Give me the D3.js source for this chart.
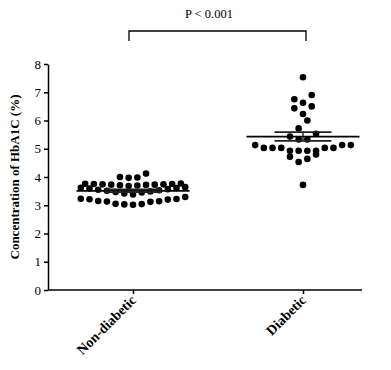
<!DOCTYPE html>
<html>
<head>
<meta charset="utf-8">
<script src="https://d3js.org/d3.v7.min.js"></script>
<style>
  body {margin:0; background:#fff;}
  svg {display:block;}
  text {font-family:'Liberation Serif','Times New Roman',serif; fill:#000;}
</style>
</head>
<body>
<svg id="chart"></svg>
<script>
// data
const groups=['Non-diabetic','Diabetic'];
const nonDiabetic=[3.97,3.98,4.00,4.12,
  3.68,3.70,3.71,3.72,3.73,3.73,3.74,3.74,3.75,3.75,3.76,3.77,
  3.38,3.42,3.45,3.47,3.49,3.51,3.53,3.55,3.57,3.59,3.61,3.62,3.64,
  3.02,3.03,3.04,3.05,3.12,3.13,3.14,3.15,3.20,3.21,3.22,3.23,3.29];
const diabetic=[7.53,6.90,6.75,6.63,6.50,6.43,6.23,6.00,5.72,5.53,5.43,
  5.33,5.33,5.13,5.13,5.13,5.03,5.03,5.03,5.03,5.03,
  4.93,4.80,4.93,4.93,4.93,4.72,4.64,4.53,3.72];
const yTicks=[0,1,2,3,4,5,6,7,8];
const pLabel='P < 0.001';

const W=391,H=370;
const svg=d3.select('#chart').attr('width',W).attr('height',H);

const x=d3.scalePoint().domain(groups).range([133,303]);
const y=d3.scaleLinear().domain([0,8]).range([290,64]);
const r=3.3, step=4.35, binSize=0.28;

// y axis
svg.append('g').attr('transform','translate(48,0)')
   .call(d3.axisLeft(y).tickValues(yTicks).tickSize(4).tickSizeOuter(0).tickPadding(3))
   .call(g=>g.attr('font-family',null))
   .call(g=>g.selectAll('text').style('font-size','13px'))
   .call(g=>g.selectAll('path,line').attr('stroke','#000').attr('stroke-width',1.5));

// x axis
svg.append('g').attr('transform','translate(0,290)')
   .call(d3.axisBottom(x).tickSize(4).tickSizeOuter(0).tickFormat(''))
   .call(g=>g.select('.domain').remove())
   .call(g=>g.selectAll('line').attr('stroke','#000').attr('stroke-width',1.5));
svg.append('line').attr('x1',48).attr('x2',362).attr('y1',290).attr('y2',290)
   .attr('stroke','#000').attr('stroke-width',1.5);
groups.forEach(function(gname) {
    svg.append('text')
       .attr('transform','translate('+(x(gname)+4)+',301) rotate(-45)')
       .attr('text-anchor','end')
       .style('font-size','14px').style('font-weight','bold')
       .text(gname); });

svg.append('text')
   .attr('transform','translate(19,'+y(4)+') rotate(-90)')
   .attr('text-anchor','middle')
   .style('font-size','13px').style('font-weight','bold')
   .text('Concentration of HbA1C (%)');

// prism style dot plot: values grouped into bins, each bin spread sideways,
// lowest value in the middle
function dotplot(vals,cx) {
    var sorted=vals.slice().sort(d3.ascending),bins=[],cur=null;
    sorted.forEach(function(v) {
        if (!cur||v>cur[0]+binSize+1e-9) {cur=[]; bins.push(cur);}
        cur.push(v); });
    var pts=[];
    bins.forEach(function(b) {
        var n=b.length,slots=[];
        for (var i=0;i<n;i++) slots.push((2*i-(n-1))*step);
        slots.sort(function(a,c) {return Math.abs(a)-Math.abs(c)||a-c;});
        b.forEach(function(v,i) {pts.push({x:cx+slots[i],y:y(v)});}); });
    return pts;
}

[[groups[0],nonDiabetic],[groups[1],diabetic]].forEach(function(d) {
    var cx=x(d[0]),vals=d[1];
    svg.append('g').selectAll('circle').data(dotplot(vals,cx)).join('circle')
       .attr('cx',p=>p.x).attr('cy',p=>p.y).attr('r',r).attr('fill','#000');
    var m=d3.mean(vals),se=d3.deviation(vals)/Math.sqrt(vals.length);
    svg.append('line').attr('x1',cx-56.5).attr('x2',cx+56.5)
       .attr('y1',y(m)).attr('y2',y(m)).attr('stroke','#000').attr('stroke-width',1.8);
    [m-se,m+se].forEach(function(v) {
        svg.append('line').attr('x1',cx-28.5).attr('x2',cx+28.5)
           .attr('y1',y(v)).attr('y2',y(v)).attr('stroke','#222').attr('stroke-width',1.8);});
    svg.append('line').attr('x1',cx).attr('x2',cx)
       .attr('y1',y(m-se)).attr('y2',y(m+se)).attr('stroke','#222').attr('stroke-width',1.5);
});

// significance bracket
svg.append('path')
   .attr('d','M'+(x(groups[0])-4)+',41V31H'+(x(groups[1])+3)+'V41')
   .attr('fill','none').attr('stroke','#000').attr('stroke-width',1.3);
svg.append('text').attr('x',209).attr('y',18).attr('text-anchor','middle')
   .style('font-size','12.5px').text(pLabel);
</script>
</body>
</html>
